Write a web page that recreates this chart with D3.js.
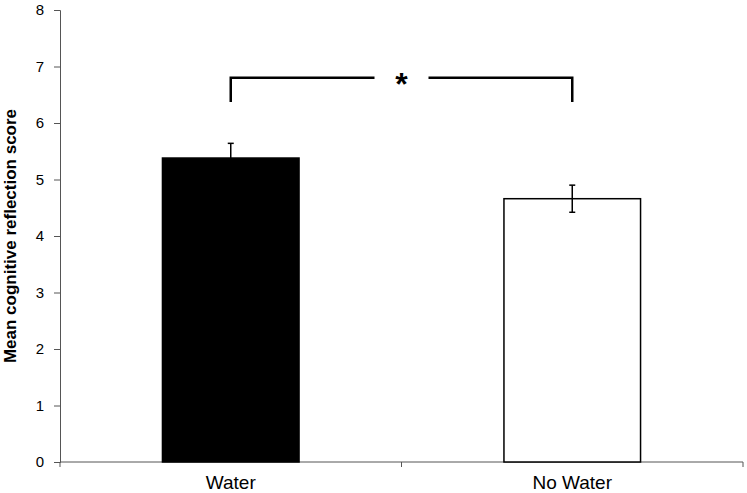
<!DOCTYPE html>
<html>
<head>
<meta charset="utf-8">
<script src="https://cdn.jsdelivr.net/npm/d3@7/dist/d3.min.js"></script>
<style>
  body { margin: 0; background: #fff; }
  svg { display: block; font-family: "Liberation Sans", Arial, sans-serif; }
</style>
</head>
<body>
<svg id="chart" width="747" height="493"></svg>
<script>
// data
const groups = ['Water', 'No Water'];
const means = [5.38, 4.66];
const errors = [0.26, 0.24];
const fills = ['#000', '#fff'];
const yTicks = [0, 1, 2, 3, 4, 5, 6, 7, 8];

const width = 747, height = 493;
const margin = { top: 10, right: 4, bottom: 31, left: 60 };

const svg = d3.select('#chart');

const x = d3.scaleBand()
  .domain(groups)
  .range([margin.left, width - margin.right])
  .paddingInner(0.6)
  .paddingOuter(0.3);

const y = d3.scaleLinear()
  .domain([0, 8])
  .range([height - margin.bottom, margin.top]);

// y axis
const yAxis = svg.append('g')
  .attr('transform', `translate(${margin.left},0)`)
  .call(d3.axisLeft(y).tickValues(yTicks).tickSize(6).tickPadding(10));
yAxis.select('.domain').attr('stroke', '#555');
yAxis.selectAll('.tick line').attr('stroke', '#555');
yAxis.selectAll('.tick text')
  .attr('font-size', 15)
  .attr('fill', '#000');

// x axis with ticks between categories
const xEdges = [margin.left, (x('Water') + x.bandwidth() + x('No Water')) / 2, width - margin.right];
const xAxis = svg.append('g').attr('transform', `translate(0,${y(0)})`);
xAxis.append('line')
  .attr('x1', margin.left).attr('x2', width - margin.right)
  .attr('stroke', '#555');
xAxis.selectAll('line.tk')
  .data(xEdges)
  .enter().append('line')
  .attr('class', 'tk')
  .attr('x1', d => d).attr('x2', d => d)
  .attr('y1', 0).attr('y2', 5)
  .attr('stroke', '#555');
xAxis.selectAll('text')
  .data(groups)
  .enter().append('text')
  .attr('x', d => x(d) + x.bandwidth() / 2)
  .attr('y', 27)
  .attr('text-anchor', 'middle')
  .attr('font-size', 19)
  .text(d => d);

// bars
svg.selectAll('rect.bar')
  .data(groups)
  .enter().append('rect')
  .attr('class', 'bar')
  .attr('x', d => x(d))
  .attr('width', x.bandwidth())
  .attr('y', (d, i) => y(means[i]))
  .attr('height', (d, i) => y(0) - y(means[i]))
  .attr('fill', (d, i) => fills[i])
  .attr('stroke', '#000')
  .attr('stroke-width', 1.5);

// error bars
const eb = svg.selectAll('g.err')
  .data(groups)
  .enter().append('g')
  .attr('class', 'err')
  .attr('stroke', '#000')
  .attr('stroke-width', 1.5);
eb.append('line')
  .attr('x1', d => x(d) + x.bandwidth() / 2)
  .attr('x2', d => x(d) + x.bandwidth() / 2)
  .attr('y1', (d, i) => y(means[i] - errors[i]))
  .attr('y2', (d, i) => y(means[i] + errors[i]));
[1, -1].forEach(s => {
  eb.append('line')
    .attr('x1', d => x(d) + x.bandwidth() / 2 - 3)
    .attr('x2', d => x(d) + x.bandwidth() / 2 + 3)
    .attr('y1', (d, i) => y(means[i] + s * errors[i]))
    .attr('y2', (d, i) => y(means[i] + s * errors[i]));
});

// significance bracket
const bracketTop = 6.8, bracketLeg = 6.37;
const cx1 = x('Water') + x.bandwidth() / 2;
const cx2 = x('No Water') + x.bandwidth() / 2;
const mid = xEdges[1];
const gap = 27;
svg.append('path')
  .attr('d', `M${cx1},${y(bracketLeg)}V${y(bracketTop)}H${mid - gap}`)
  .attr('fill', 'none').attr('stroke', '#000').attr('stroke-width', 2.5);
svg.append('path')
  .attr('d', `M${mid + gap},${y(bracketTop)}H${cx2}V${y(bracketLeg)}`)
  .attr('fill', 'none').attr('stroke', '#000').attr('stroke-width', 2.5);
svg.append('text')
  .attr('x', mid)
  .attr('y', y(bracketTop) + 17)
  .attr('text-anchor', 'middle')
  .attr('font-size', 32)
  .attr('font-weight', 'bold')
  .text('*');

// y axis title
svg.append('text')
  .attr('transform', `translate(16,${(y(0) + y(8)) / 2}) rotate(-90)`)
  .attr('text-anchor', 'middle')
  .attr('font-size', 17)
  .attr('font-weight', 'bold')
  .text('Mean cognitive reflection score');
</script>
</body>
</html>
